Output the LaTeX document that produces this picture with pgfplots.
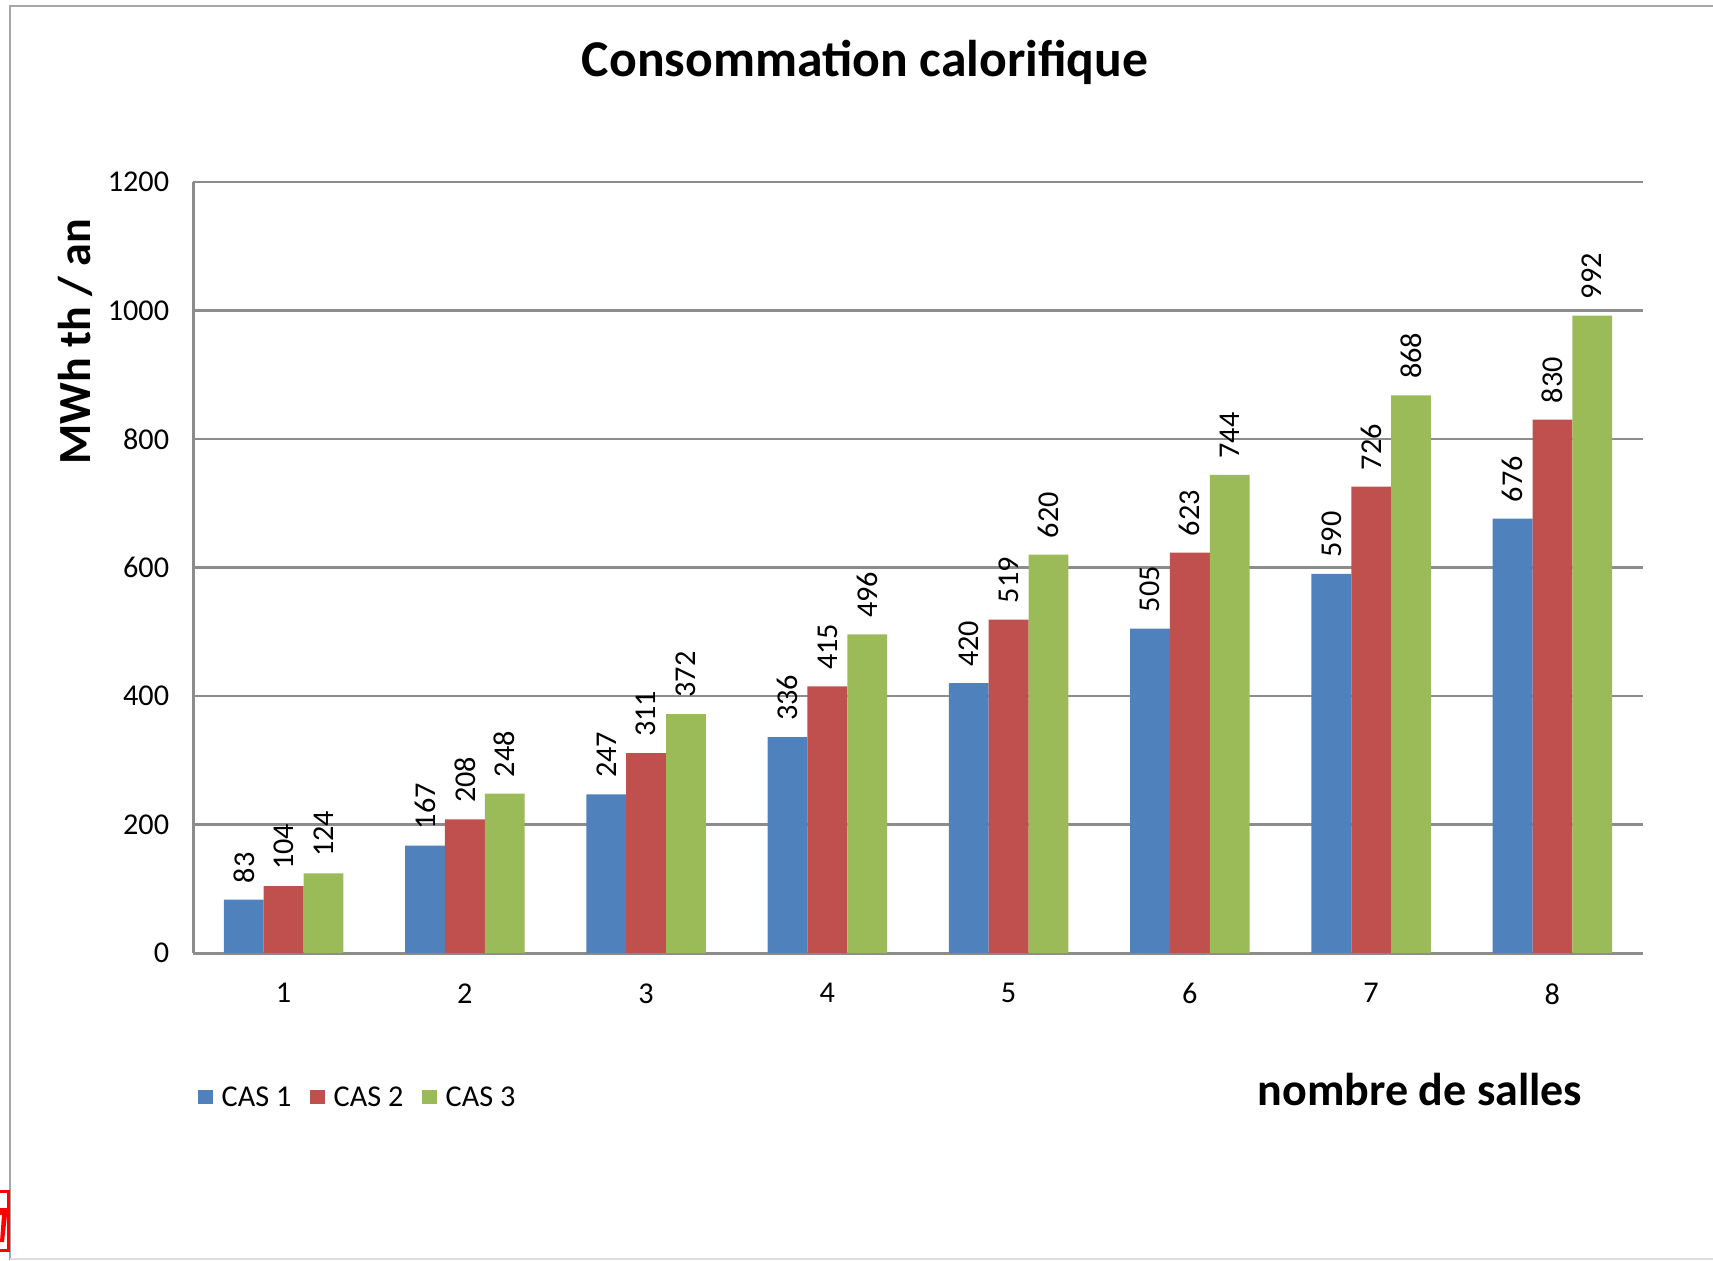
\documentclass[border=0pt]{standalone}
\usepackage{fontspec}
\setmainfont{Carlito}
\usepackage{pgfplots}
\pgfplotsset{compat=1.18}

\definecolor{cas1}{HTML}{4F81BD}
\definecolor{cas2}{HTML}{C0504D}
\definecolor{cas3}{HTML}{9BBB59}
\definecolor{gridgray}{HTML}{8C8C8C}

\newcommand{\labelfont}{\fontsize{8.6}{10}\selectfont}

\begin{document}
\begin{tikzpicture}
% page of 1713 x 1260 units of 0.1mm
\path[use as bounding box] (0,0) rectangle (171.3mm,126mm);

% everything in this scope is given from the top-left corner, y downwards
\begin{scope}[x=0.1mm, y=-0.1mm, shift={(0mm,126mm)}]
\draw[gray!70, line width=0.25mm] (1713,6) -- (10,6) -- (10,1260);
\draw[gray!25, line width=0.15mm] (10,1259) -- (1713,1259);

\node[font=\bfseries\fontsize{14.7}{17}\selectfont] at (865,62) {Consommation calorifique};
\node[font=\bfseries\fontsize{13.1}{15}\selectfont, rotate=90] at (75,342) {MWh th / an};
\node[font=\bfseries\fontsize{13.1}{15}\selectfont] at (1420,1089) {nombre de salles};

% legend
\fill[cas1] (198,1090) rectangle (213,1104);
\node[anchor=west, inner sep=0pt, font=\labelfont] at (221,1097) {CAS 1};
\fill[cas2] (310,1090) rectangle (325,1104);
\node[anchor=west, inner sep=0pt, font=\labelfont] at (333,1097) {CAS 2};
\fill[cas3] (422,1090) rectangle (437,1104);
\node[anchor=west, inner sep=0pt, font=\labelfont] at (445,1097) {CAS 3};

% clipped red marker at the lower left edge
\begin{scope}
\clip (0,1185) rectangle (10,1255);
\draw[red, line width=0.3mm] (-30,1191) rectangle (8,1250);
\fill[red] (0,1208) rectangle (7,1215);
\fill[red] (2,1215) -- (7,1215) -- (4,1242) -- (0,1242) -- cycle;
\end{scope}
\end{scope}

\begin{axis}[
  at={(19.3mm,30.7mm)}, anchor=south west,
  scale only axis,
  width=145mm, height=77.1mm,
  xmin=0.5, xmax=8.5,
  ymin=0, ymax=1200,
  xtick={1,...,8},
  ytick={0,200,...,1200},
  axis x line*=bottom,
  axis y line*=left,
  axis line style={gridgray, line width=0.3mm, -},
  major tick length=0pt,
  ymajorgrids,
  grid style={gridgray, line width=0.25mm},
  tick label style={font=\labelfont},
  /pgf/number format/assume math mode=true,
  /pgf/number format/1000 sep={},
  xticklabel style={yshift=-1.8mm},
  yticklabel style={xshift=-1.15mm},
  ybar=0pt,
  bar width=0.2195,
  nodes near coords,
  every node near coord/.append style={rotate=90, anchor=west,
     font=\labelfont, black, xshift=0.4mm},
]
\addplot[draw=none, fill=cas1] coordinates {(1,83) (2,167) (3,247) (4,336) (5,420) (6,505) (7,590) (8,676)};
\addplot[draw=none, fill=cas2] coordinates {(1,104) (2,208) (3,311) (4,415) (5,519) (6,623) (7,726) (8,830)};
\addplot[draw=none, fill=cas3] coordinates {(1,124) (2,248) (3,372) (4,496) (5,620) (6,744) (7,868) (8,992)};
\end{axis}
\end{tikzpicture}
\end{document}
